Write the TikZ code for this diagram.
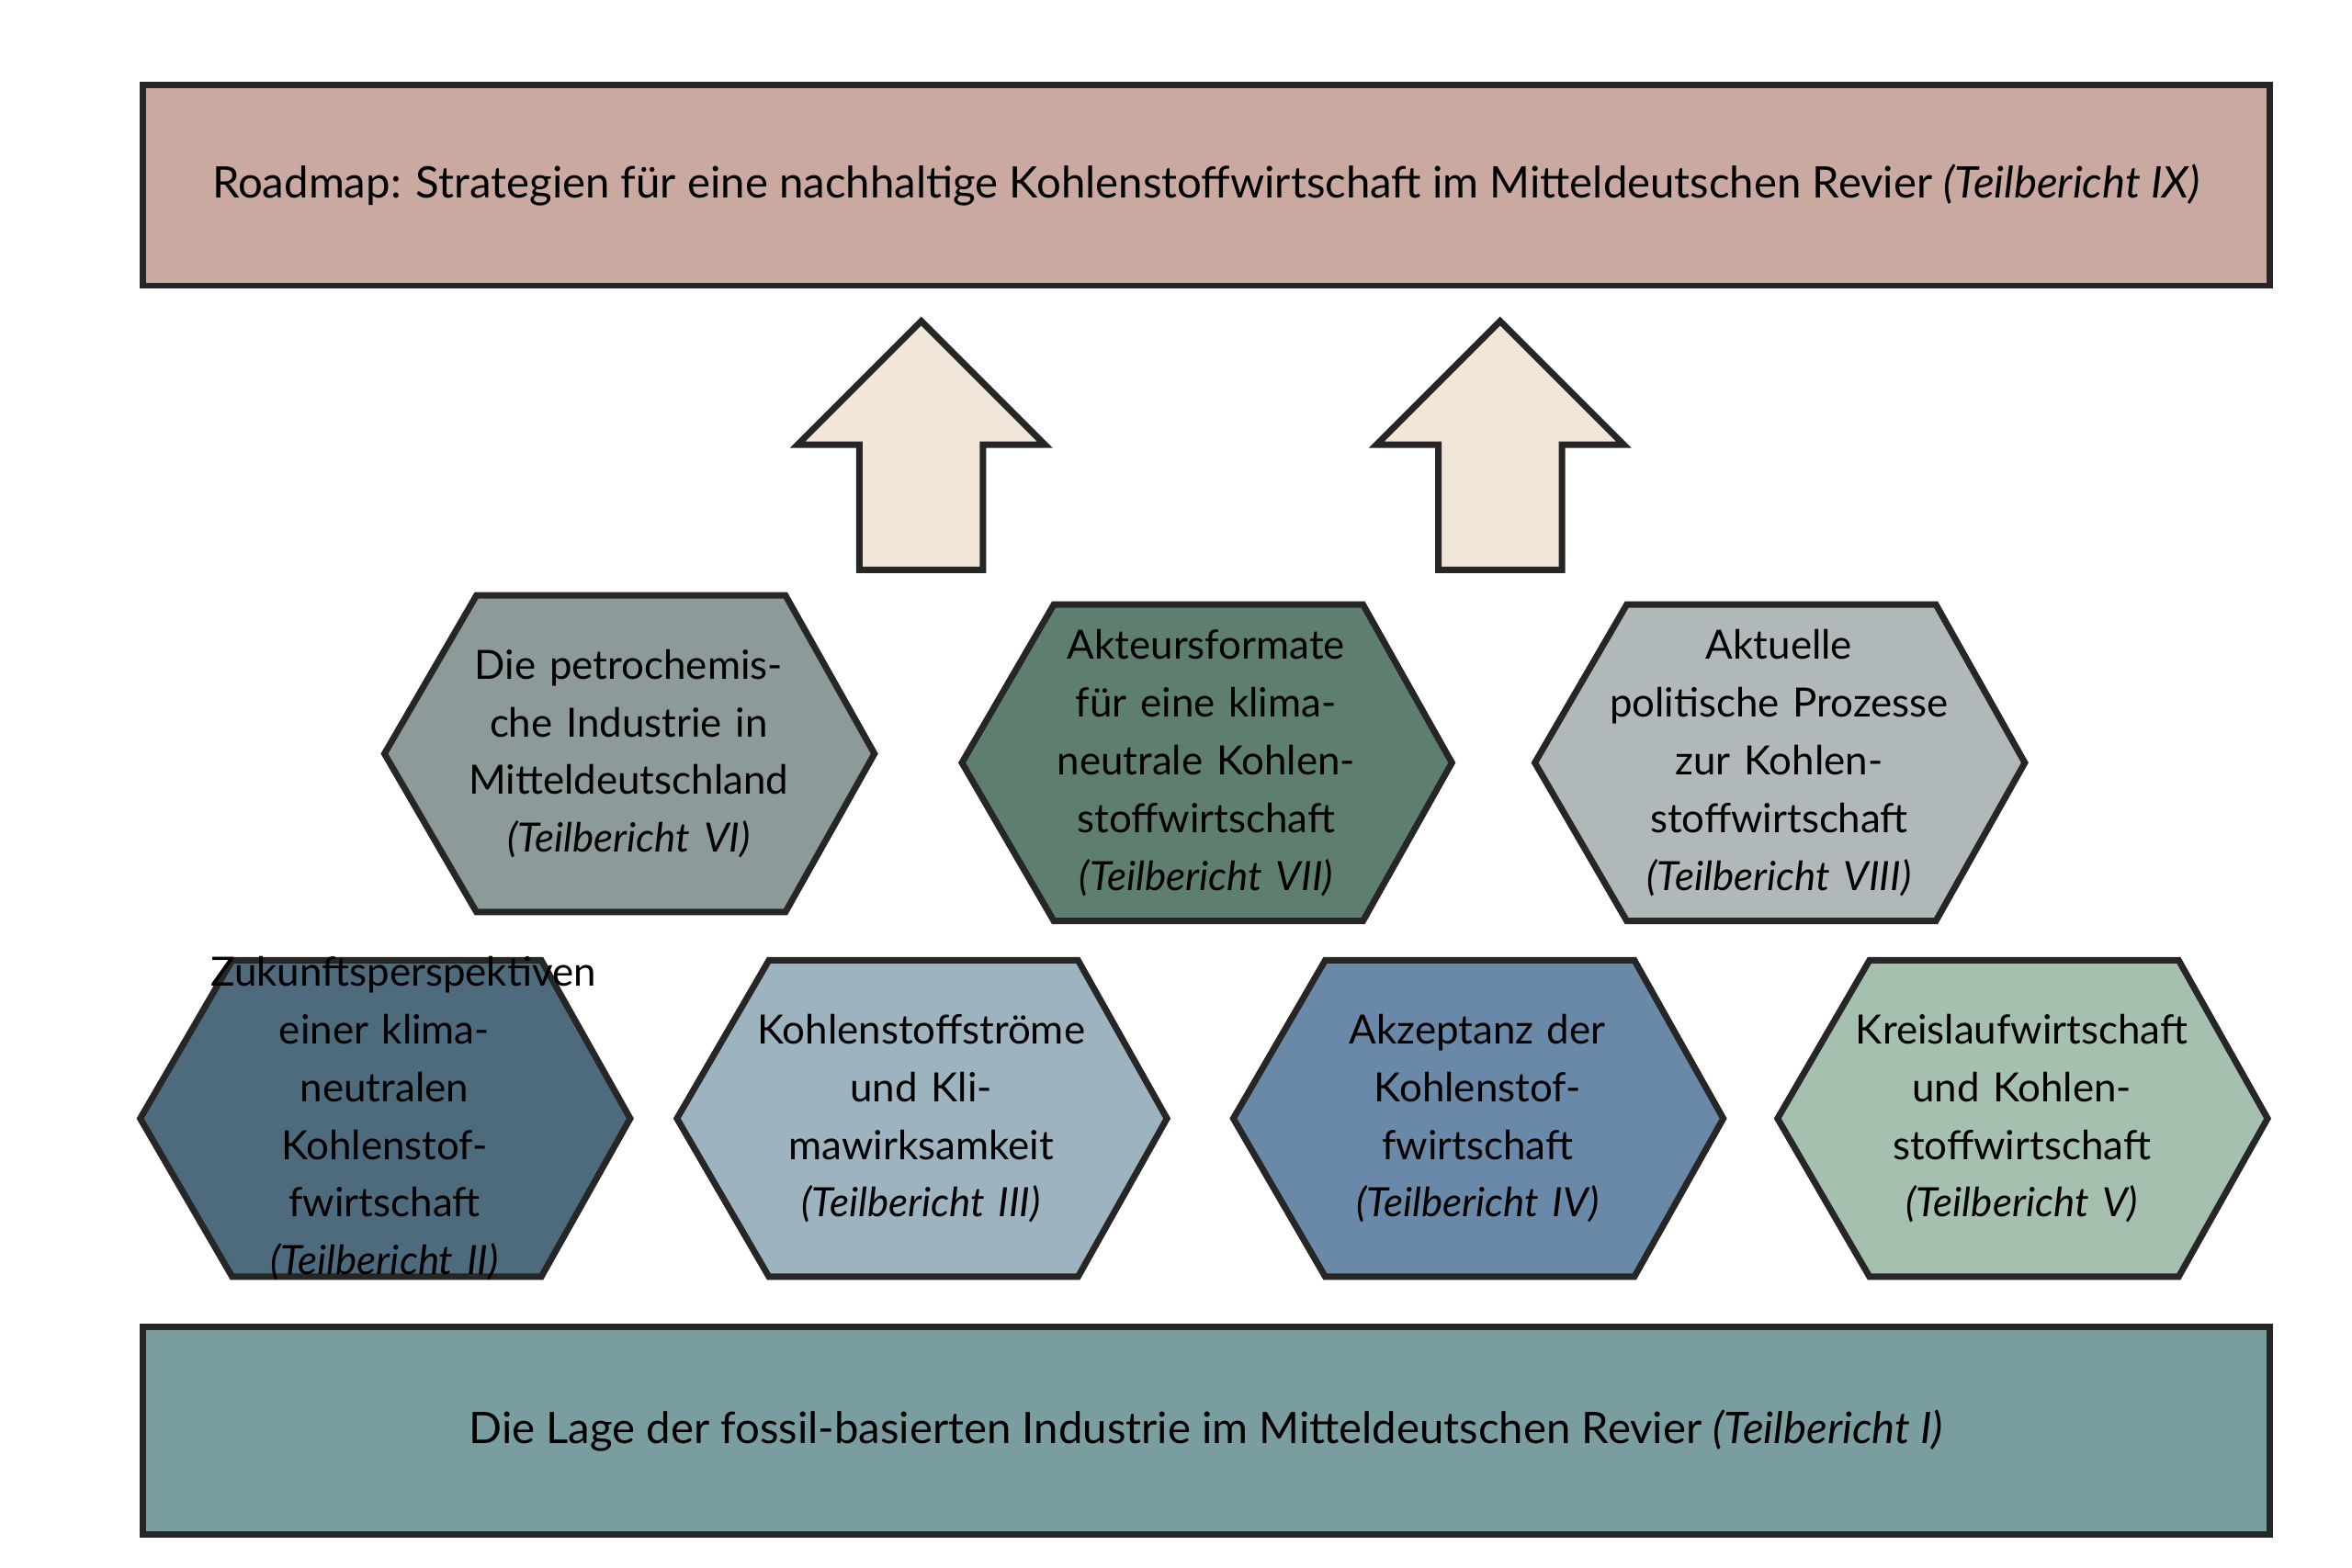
\documentclass[tikz,border=0pt]{standalone}
\usepackage{fontspec}
\setmainfont{Lato}
\usetikzlibrary{positioning}
\definecolor{roadmap}{HTML}{C9A9A0}
\definecolor{lage}{HTML}{7A9DA0}
\definecolor{pfeil}{HTML}{F2E6D8}
\definecolor{hexsechs}{HTML}{8C9A9A}
\definecolor{hexsieben}{HTML}{5E7F6F}
\definecolor{hexacht}{HTML}{B0B8BA}
\definecolor{hexzwei}{HTML}{4E6B7E}
\definecolor{hexdrei}{HTML}{9DB3BF}
\definecolor{hexvier}{HTML}{6A89A8}
\definecolor{hexfuenf}{HTML}{A5C0AF}
% hexagon: name, centre, fill colour, text
\newcommand{\hexbox}[5]{%
  \draw[hexline, fill=#4] (#2-162,#3) -- (#2-101,#3-105) -- (#2+104,#3-105)
    -- (#2+163,#3) -- (#2+104,#3+105) -- (#2-101,#3+105) -- cycle;
  \node[hextext] (#1) at (#2,#3) {#5};}
\begin{document}
\begin{tikzpicture}[
  x=0.01cm, y=-0.01cm,
  hexline/.style={draw=black!85, line width=1.2pt},
  hextext/.style={align=center, font=\fontsize{7.6}{10.9}\selectfont, text width=2.3cm},
  band/.style={draw=black!85, line width=1.2pt, minimum width=14.1cm, inner sep=0pt,
    font=\fontsize{8.2}{10}\selectfont},
  up/.style={draw=black!85, line width=1.2pt, fill=pfeil}
]
\useasboundingbox (0,0) rectangle (1560,1040);

% Rahmen oben und unten
\node[band, fill=roadmap, minimum height=1.33cm] (roadmap) at (800,123)
  {Roadmap: Strategien für eine nachhaltige Kohlenstoffwirtschaft im Mitteldeutschen Revier \textit{(Teilbericht IX)}};
\node[band, fill=lage, minimum height=1.38cm] (lage) at (800,949)
  {Die Lage der fossil-basierten Industrie im Mitteldeutschen Revier \textit{(Teilbericht I)}};

% Pfeile
\foreach \px in {611,995}
  \draw[up] (\px,213) -- (\px+82,295) -- (\px+41,295) -- (\px+41,378)
    -- (\px-41,378) -- (\px-41,295) -- (\px-82,295) -- cycle;

% obere Reihe
\hexbox{tbsechs}{417}{500}{hexsechs}{Die petrochemische Industrie in Mitteldeutschland\\\textit{(Teilbericht VI)}}
\hexbox{tbsieben}{800}{506}{hexsieben}{Akteursformate für eine klimaneutrale Kohlenstoffwirtschaft\\\textit{(Teilbericht VII)}}
\hexbox{tbacht}{1180}{506}{hexacht}{Aktuelle\\politische Prozesse zur Kohlenstoffwirtschaft\\\textit{(Teilbericht VIII)}}

% untere Reihe
\hexbox{tbzwei}{255}{742}{hexzwei}{Zukunftsperspektiven einer klimaneutralen Kohlenstoffwirtschaft\\\textit{(Teilbericht II)}}
\hexbox{tbdrei}{611}{742}{hexdrei}{Kohlenstoffströme und Klimawirksamkeit\\\textit{(Teilbericht III)}}
\hexbox{tbvier}{980}{742}{hexvier}{Akzeptanz der Kohlenstoffwirtschaft\\\textit{(Teilbericht IV)}}
\hexbox{tbfuenf}{1341}{742}{hexfuenf}{Kreislaufwirtschaft und Kohlenstoffwirtschaft\\\textit{(Teilbericht V)}}
\end{tikzpicture}
\end{document}
